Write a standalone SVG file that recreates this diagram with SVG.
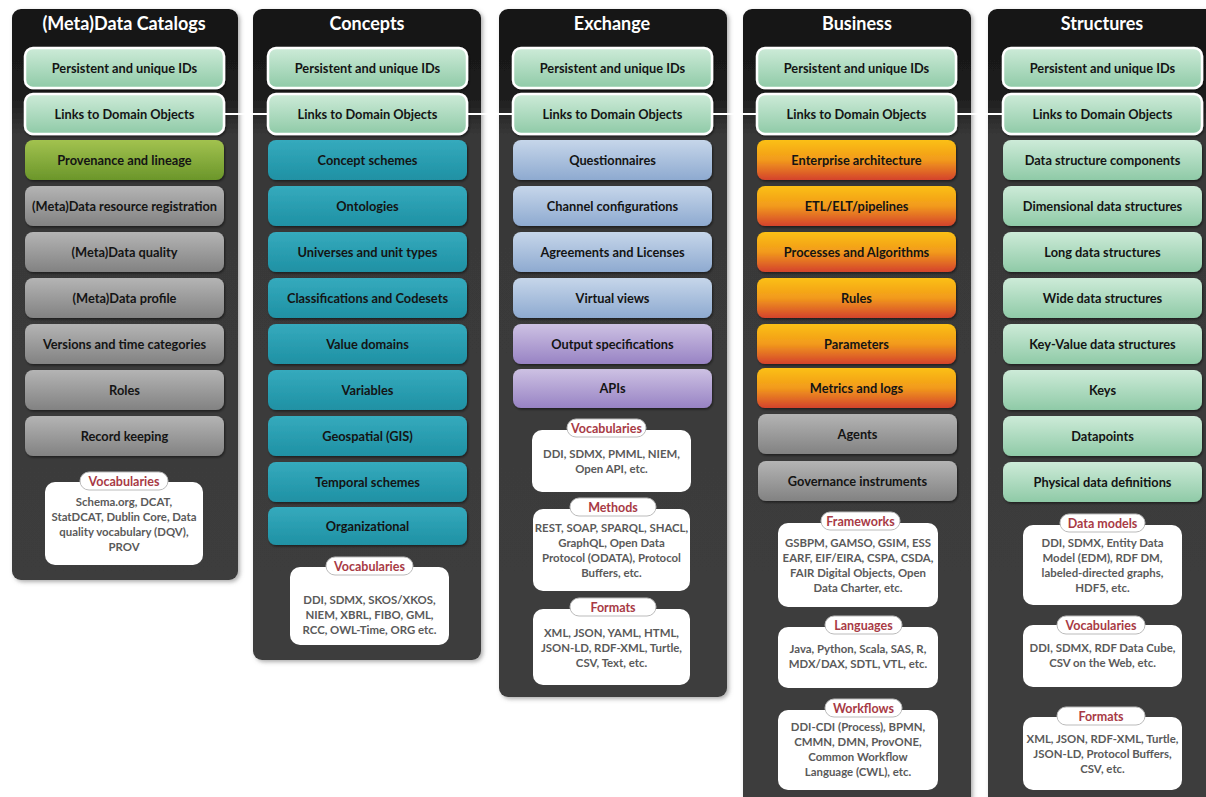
<svg xmlns="http://www.w3.org/2000/svg" width="1206" height="797" viewBox="0 0 1206 797">
<defs>
<linearGradient id="gPanel" gradientUnits="userSpaceOnUse" x1="0" y1="0" x2="0" y2="797">
<stop offset="0" stop-color="#141414"/><stop offset="0.12" stop-color="#1c1c1c"/><stop offset="0.17" stop-color="#383838"/><stop offset="1" stop-color="#3e3e3e"/></linearGradient>
<linearGradient id="gGreen" x1="0" y1="0" x2="0" y2="1"><stop offset="0" stop-color="#cdebd8"/><stop offset="1" stop-color="#8fcaa7"/></linearGradient>
<linearGradient id="gOlive" x1="0" y1="0" x2="0" y2="1"><stop offset="0" stop-color="#a2c24f"/><stop offset="1" stop-color="#6b962a"/></linearGradient>
<linearGradient id="gGray" x1="0" y1="0" x2="0" y2="1"><stop offset="0" stop-color="#b4b4b4"/><stop offset="1" stop-color="#828282"/></linearGradient>
<linearGradient id="gTeal" x1="0" y1="0" x2="0" y2="1"><stop offset="0" stop-color="#35aabd"/><stop offset="1" stop-color="#1f91a4"/></linearGradient>
<linearGradient id="gBlue" x1="0" y1="0" x2="0" y2="1"><stop offset="0" stop-color="#c6d6ea"/><stop offset="1" stop-color="#8eaad0"/></linearGradient>
<linearGradient id="gPurple" x1="0" y1="0" x2="0" y2="1"><stop offset="0" stop-color="#cdc1e3"/><stop offset="1" stop-color="#9883c4"/></linearGradient>
<linearGradient id="gOrange" x1="0" y1="0" x2="0" y2="1"><stop offset="0" stop-color="#fbc012"/><stop offset="0.5" stop-color="#f29a1c"/><stop offset="1" stop-color="#d4422d"/></linearGradient>
<filter id="sh" x="-5%" y="-5%" width="115%" height="115%"><feDropShadow dx="2" dy="2" stdDeviation="2" flood-color="#777" flood-opacity="0.6"/></filter>
<filter id="bsh" x="-5%" y="-10%" width="115%" height="130%"><feDropShadow dx="1" dy="1.5" stdDeviation="1" flood-color="#000" flood-opacity="0.5"/></filter>
</defs>
<style>
.panel{fill:url(#gPanel);filter:url(#sh)}
.title{font-family:Lato,"Liberation Sans",sans-serif;font-weight:bold;font-size:18px;fill:#fff;text-anchor:middle}
.box{filter:url(#bsh)}
.green{fill:url(#gGreen)}
.key{fill:url(#gGreen);stroke:#fff;stroke-width:2.5}
.olive{fill:url(#gOlive)}
.gray{fill:url(#gGray)}
.teal{fill:url(#gTeal)}
.blue{fill:url(#gBlue)}
.purple{fill:url(#gPurple)}
.orange{fill:url(#gOrange)}
.bt{font-family:Lato,"Liberation Sans",sans-serif;font-weight:bold;font-size:12.8px;fill:#141414;text-anchor:middle}
.info{fill:#fff}
.tab{fill:#fff;stroke:#bbb;stroke-width:1}
.tt{font-family:Lato,"Liberation Sans",sans-serif;font-weight:bold;font-size:12.5px;fill:#a83a45;text-anchor:middle}
.it{font-family:Lato,"Liberation Sans",sans-serif;font-weight:bold;font-size:11.4px;fill:#5a5a5a;text-anchor:middle}
.conn{stroke:#fff;stroke-width:2;fill:none}
</style>
<rect width="1206" height="797" fill="#fff"/>

<g id="col-catalogs">
<rect class="panel" x="12" y="9" width="226" height="571" rx="9"/>
<text class="title" x="124" y="30">(Meta)Data Catalogs</text>
<g id="cat-ids"><rect class="box key" x="25" y="48" width="199" height="40" rx="8"/><text class="bt" x="124.5" y="72.5">Persistent and unique IDs</text></g>
<g id="cat-links"><rect class="box key" x="25" y="94" width="199" height="40" rx="8"/><text class="bt" x="124.5" y="118.5">Links to Domain Objects</text></g>
<g id="cat-prov"><rect class="box olive" x="25" y="140" width="199" height="40" rx="8"/><text class="bt" x="124.5" y="164.5">Provenance and lineage</text></g>
<g id="cat-reg"><rect class="box gray" x="25" y="186" width="199" height="40" rx="8"/><text class="bt" x="124.5" y="210.5">(Meta)Data resource registration</text></g>
<g id="cat-quality"><rect class="box gray" x="25" y="232" width="199" height="40" rx="8"/><text class="bt" x="124.5" y="256.5">(Meta)Data quality</text></g>
<g id="cat-profile"><rect class="box gray" x="25" y="278" width="199" height="40" rx="8"/><text class="bt" x="124.5" y="302.5">(Meta)Data profile</text></g>
<g id="cat-versions"><rect class="box gray" x="25" y="324" width="199" height="40" rx="8"/><text class="bt" x="124.5" y="348.5">Versions and time categories</text></g>
<g id="cat-roles"><rect class="box gray" x="25" y="370" width="199" height="40" rx="8"/><text class="bt" x="124.5" y="394.5">Roles</text></g>
<g id="cat-record"><rect class="box gray" x="25" y="416" width="199" height="40" rx="8"/><text class="bt" x="124.5" y="440.5">Record keeping</text></g>
<g id="cat-vocab">
<rect class="info" x="45" y="482" width="158" height="83" rx="10"/>
<rect class="tab" x="80" y="472" width="88" height="18" rx="9"/>
<text class="tt" x="124" y="485.5">Vocabularies</text>
<text class="it" x="124" y="506">Schema.org, DCAT,</text>
<text class="it" x="124" y="521">StatDCAT, Dublin Core, Data</text>
<text class="it" x="124" y="536">quality vocabulary (DQV),</text>
<text class="it" x="124" y="551">PROV</text>
</g>
</g>

<g id="col-concepts">
<rect class="panel" x="253" y="9" width="228" height="651" rx="9"/>
<text class="title" x="367" y="30">Concepts</text>
<g id="con-ids"><rect class="box key" x="268" y="48" width="199" height="40" rx="8"/><text class="bt" x="367.5" y="72.5">Persistent and unique IDs</text></g>
<g id="con-links"><rect class="box key" x="268" y="94" width="199" height="40" rx="8"/><text class="bt" x="367.5" y="118.5">Links to Domain Objects</text></g>
<g id="con-schemes"><rect class="box teal" x="268" y="140" width="199" height="40" rx="8"/><text class="bt" x="367.5" y="164.5">Concept schemes</text></g>
<g id="con-onto"><rect class="box teal" x="268" y="186" width="199" height="40" rx="8"/><text class="bt" x="367.5" y="210.5">Ontologies</text></g>
<g id="con-univ"><rect class="box teal" x="268" y="232" width="199" height="40" rx="8"/><text class="bt" x="367.5" y="256.5">Universes and unit types</text></g>
<g id="con-class"><rect class="box teal" x="268" y="278" width="199" height="40" rx="8"/><text class="bt" x="367.5" y="302.5">Classifications and Codesets</text></g>
<g id="con-value"><rect class="box teal" x="268" y="324" width="199" height="40" rx="8"/><text class="bt" x="367.5" y="348.5">Value domains</text></g>
<g id="con-vars"><rect class="box teal" x="268" y="370" width="199" height="40" rx="8"/><text class="bt" x="367.5" y="394.5">Variables</text></g>
<g id="con-geo"><rect class="box teal" x="268" y="416" width="199" height="40" rx="8"/><text class="bt" x="367.5" y="440.5">Geospatial (GIS)</text></g>
<g id="con-temp"><rect class="box teal" x="268" y="462" width="199" height="40" rx="8"/><text class="bt" x="367.5" y="486.5">Temporal schemes</text></g>
<g id="con-org"><rect class="box teal" x="268" y="507" width="199" height="38" rx="8"/><text class="bt" x="367.5" y="530.5">Organizational</text></g>
<g id="con-vocab">
<rect class="info" x="290" y="567" width="159" height="78" rx="10"/>
<rect class="tab" x="326" y="557" width="87" height="18" rx="9"/>
<text class="tt" x="369.5" y="570.5">Vocabularies</text>
<text class="it" x="369.5" y="604">DDI, SDMX, SKOS/XKOS,</text>
<text class="it" x="369.5" y="619">NIEM, XBRL, FIBO, GML,</text>
<text class="it" x="369.5" y="634">RCC, OWL-Time, ORG etc.</text>
</g>
</g>

<g id="col-exchange">
<rect class="panel" x="499" y="9" width="228" height="688" rx="9"/>
<text class="title" x="612" y="30">Exchange</text>
<g id="ex-ids"><rect class="box key" x="513" y="48" width="199" height="40" rx="8"/><text class="bt" x="612.5" y="72.5">Persistent and unique IDs</text></g>
<g id="ex-links"><rect class="box key" x="513" y="94" width="199" height="40" rx="8"/><text class="bt" x="612.5" y="118.5">Links to Domain Objects</text></g>
<g id="ex-quest"><rect class="box blue" x="513" y="140" width="199" height="40" rx="8"/><text class="bt" x="612.5" y="164.5">Questionnaires</text></g>
<g id="ex-chan"><rect class="box blue" x="513" y="186" width="199" height="40" rx="8"/><text class="bt" x="612.5" y="210.5">Channel configurations</text></g>
<g id="ex-agree"><rect class="box blue" x="513" y="232" width="199" height="40" rx="8"/><text class="bt" x="612.5" y="256.5">Agreements and Licenses</text></g>
<g id="ex-views"><rect class="box blue" x="513" y="278" width="199" height="40" rx="8"/><text class="bt" x="612.5" y="302.5">Virtual views</text></g>
<g id="ex-output"><rect class="box purple" x="513" y="324" width="199" height="40" rx="8"/><text class="bt" x="612.5" y="348.5">Output specifications</text></g>
<g id="ex-apis"><rect class="box purple" x="513" y="369" width="199" height="39" rx="8"/><text class="bt" x="612.5" y="393">APIs</text></g>
<g id="ex-vocab">
<rect class="info" x="532" y="430" width="159" height="62" rx="10"/>
<rect class="tab" x="567" y="419" width="79" height="18" rx="9"/>
<text class="tt" x="606.5" y="432.5">Vocabularies</text>
<text class="it" x="611.5" y="458">DDI, SDMX, PMML, NIEM,</text>
<text class="it" x="611.5" y="473">Open API, etc.</text>
</g>
<g id="ex-methods">
<rect class="info" x="533" y="509" width="157" height="82" rx="10"/>
<rect class="tab" x="570" y="498" width="86" height="18" rx="9"/>
<text class="tt" x="613" y="511.5">Methods</text>
<text class="it" x="611.5" y="532">REST, SOAP, SPARQL, SHACL,</text>
<text class="it" x="611.5" y="547">GraphQL, Open Data</text>
<text class="it" x="611.5" y="562">Protocol (ODATA), Protocol</text>
<text class="it" x="611.5" y="577">Buffers, etc.</text>
</g>
<g id="ex-formats">
<rect class="info" x="533" y="609" width="157" height="76" rx="10"/>
<rect class="tab" x="570" y="598" width="86" height="18" rx="9"/>
<text class="tt" x="613" y="611.5">Formats</text>
<text class="it" x="611.5" y="637">XML, JSON, YAML, HTML,</text>
<text class="it" x="611.5" y="652">JSON-LD, RDF-XML, Turtle,</text>
<text class="it" x="611.5" y="667">CSV, Text, etc.</text>
</g>
</g>

<g id="col-business">
<rect class="panel" x="743" y="9" width="228" height="800" rx="9"/>
<text class="title" x="857" y="30">Business</text>
<g id="bu-ids"><rect class="box key" x="757" y="48" width="199" height="40" rx="8"/><text class="bt" x="856.5" y="72.5">Persistent and unique IDs</text></g>
<g id="bu-links"><rect class="box key" x="757" y="94" width="199" height="40" rx="8"/><text class="bt" x="856.5" y="118.5">Links to Domain Objects</text></g>
<g id="bu-ea"><rect class="box orange" x="757" y="140" width="199" height="40" rx="8"/><text class="bt" x="856.5" y="164.5">Enterprise architecture</text></g>
<g id="bu-etl"><rect class="box orange" x="757" y="186" width="199" height="40" rx="8"/><text class="bt" x="856.5" y="210.5">ETL/ELT/pipelines</text></g>
<g id="bu-proc"><rect class="box orange" x="757" y="232" width="199" height="40" rx="8"/><text class="bt" x="856.5" y="256.5">Processes and Algorithms</text></g>
<g id="bu-rules"><rect class="box orange" x="757" y="278" width="199" height="40" rx="8"/><text class="bt" x="856.5" y="302.5">Rules</text></g>
<g id="bu-params"><rect class="box orange" x="757" y="324" width="199" height="40" rx="8"/><text class="bt" x="856.5" y="348.5">Parameters</text></g>
<g id="bu-metrics"><rect class="box orange" x="757" y="368" width="199" height="40" rx="8"/><text class="bt" x="856.5" y="392.5">Metrics and logs</text></g>
<g id="bu-agents"><rect class="box gray" x="758" y="414" width="199" height="40" rx="8"/><text class="bt" x="857.5" y="438.5">Agents</text></g>
<g id="bu-gov"><rect class="box gray" x="758" y="461" width="199" height="40" rx="8"/><text class="bt" x="857.5" y="485.5">Governance instruments</text></g>
<g id="bu-frame">
<rect class="info" x="778" y="523" width="160" height="84" rx="10"/>
<rect class="tab" x="821" y="512" width="79" height="18" rx="9"/>
<text class="tt" x="860.5" y="525.5">Frameworks</text>
<text class="it" x="858" y="547">GSBPM, GAMSO, GSIM, ESS</text>
<text class="it" x="858" y="562">EARF, EIF/EIRA, CSPA, CSDA,</text>
<text class="it" x="858" y="577">FAIR Digital Objects, Open</text>
<text class="it" x="858" y="592">Data Charter, etc.</text>
</g>
<g id="bu-lang">
<rect class="info" x="778" y="627" width="160" height="61" rx="10"/>
<rect class="tab" x="825" y="616" width="77" height="18" rx="9"/>
<text class="tt" x="863.5" y="629.5">Languages</text>
<text class="it" x="858" y="653">Java, Python, Scala, SAS, R,</text>
<text class="it" x="858" y="668">MDX/DAX, SDTL, VTL, etc.</text>
</g>
<g id="bu-work">
<rect class="info" x="778" y="710" width="160" height="80" rx="10"/>
<rect class="tab" x="825" y="699" width="77" height="18" rx="9"/>
<text class="tt" x="863.5" y="712.5">Workflows</text>
<text class="it" x="858" y="731">DDI-CDI (Process), BPMN,</text>
<text class="it" x="858" y="746">CMMN, DMN, ProvONE,</text>
<text class="it" x="858" y="761">Common Workflow</text>
<text class="it" x="858" y="776">Language (CWL), etc.</text>
</g>
</g>

<g id="col-structures">
<rect class="panel" x="988" y="9" width="228" height="800" rx="9"/>
<text class="title" x="1102" y="30">Structures</text>
<g id="st-ids"><rect class="box key" x="1003" y="48" width="199" height="40" rx="8"/><text class="bt" x="1102.5" y="72.5">Persistent and unique IDs</text></g>
<g id="st-links"><rect class="box key" x="1003" y="94" width="199" height="40" rx="8"/><text class="bt" x="1102.5" y="118.5">Links to Domain Objects</text></g>
<g id="st-comp"><rect class="box green" x="1003" y="140" width="199" height="40" rx="8"/><text class="bt" x="1102.5" y="164.5">Data structure components</text></g>
<g id="st-dim"><rect class="box green" x="1003" y="186" width="199" height="40" rx="8"/><text class="bt" x="1102.5" y="210.5">Dimensional data structures</text></g>
<g id="st-long"><rect class="box green" x="1003" y="232" width="199" height="40" rx="8"/><text class="bt" x="1102.5" y="256.5">Long data structures</text></g>
<g id="st-wide"><rect class="box green" x="1003" y="278" width="199" height="40" rx="8"/><text class="bt" x="1102.5" y="302.5">Wide data structures</text></g>
<g id="st-kv"><rect class="box green" x="1003" y="324" width="199" height="40" rx="8"/><text class="bt" x="1102.5" y="348.5">Key-Value data structures</text></g>
<g id="st-keys"><rect class="box green" x="1003" y="370" width="199" height="40" rx="8"/><text class="bt" x="1102.5" y="394.5">Keys</text></g>
<g id="st-dp"><rect class="box green" x="1003" y="416" width="199" height="40" rx="8"/><text class="bt" x="1102.5" y="440.5">Datapoints</text></g>
<g id="st-phys"><rect class="box green" x="1003" y="462" width="199" height="40" rx="8"/><text class="bt" x="1102.5" y="486.5">Physical data definitions</text></g>
<g id="st-models">
<rect class="info" x="1023" y="525" width="159" height="80" rx="10"/>
<rect class="tab" x="1060" y="514" width="85" height="18" rx="9"/>
<text class="tt" x="1102.5" y="527.5">Data models</text>
<text class="it" x="1102.5" y="547">DDI, SDMX, Entity Data</text>
<text class="it" x="1102.5" y="562">Model (EDM), RDF DM,</text>
<text class="it" x="1102.5" y="577">labeled-directed graphs,</text>
<text class="it" x="1102.5" y="592">HDF5, etc.</text>
</g>
<g id="st-vocab">
<rect class="info" x="1023" y="625" width="159" height="62" rx="10"/>
<rect class="tab" x="1057" y="616" width="88" height="18" rx="9"/>
<text class="tt" x="1101" y="629.5">Vocabularies</text>
<text class="it" x="1102.5" y="652">DDI, SDMX, RDF Data Cube,</text>
<text class="it" x="1102.5" y="667">CSV on the Web, etc.</text>
</g>
<g id="st-formats">
<rect class="info" x="1023" y="717" width="159" height="73" rx="10"/>
<rect class="tab" x="1057" y="707" width="88" height="18" rx="9"/>
<text class="tt" x="1101" y="720.5">Formats</text>
<text class="it" x="1102.5" y="743">XML, JSON, RDF-XML, Turtle,</text>
<text class="it" x="1102.5" y="758">JSON-LD, Protocol Buffers,</text>
<text class="it" x="1102.5" y="773">CSV, etc.</text>
</g>
</g>

<g id="connectors">
<line class="conn" x1="224" y1="114" x2="268" y2="114"/>
<line class="conn" x1="467" y1="114" x2="513" y2="114"/>
<line class="conn" x1="712" y1="114" x2="757" y2="114"/>
<line class="conn" x1="956" y1="114" x2="1003" y2="114"/>
</g>
</svg>
